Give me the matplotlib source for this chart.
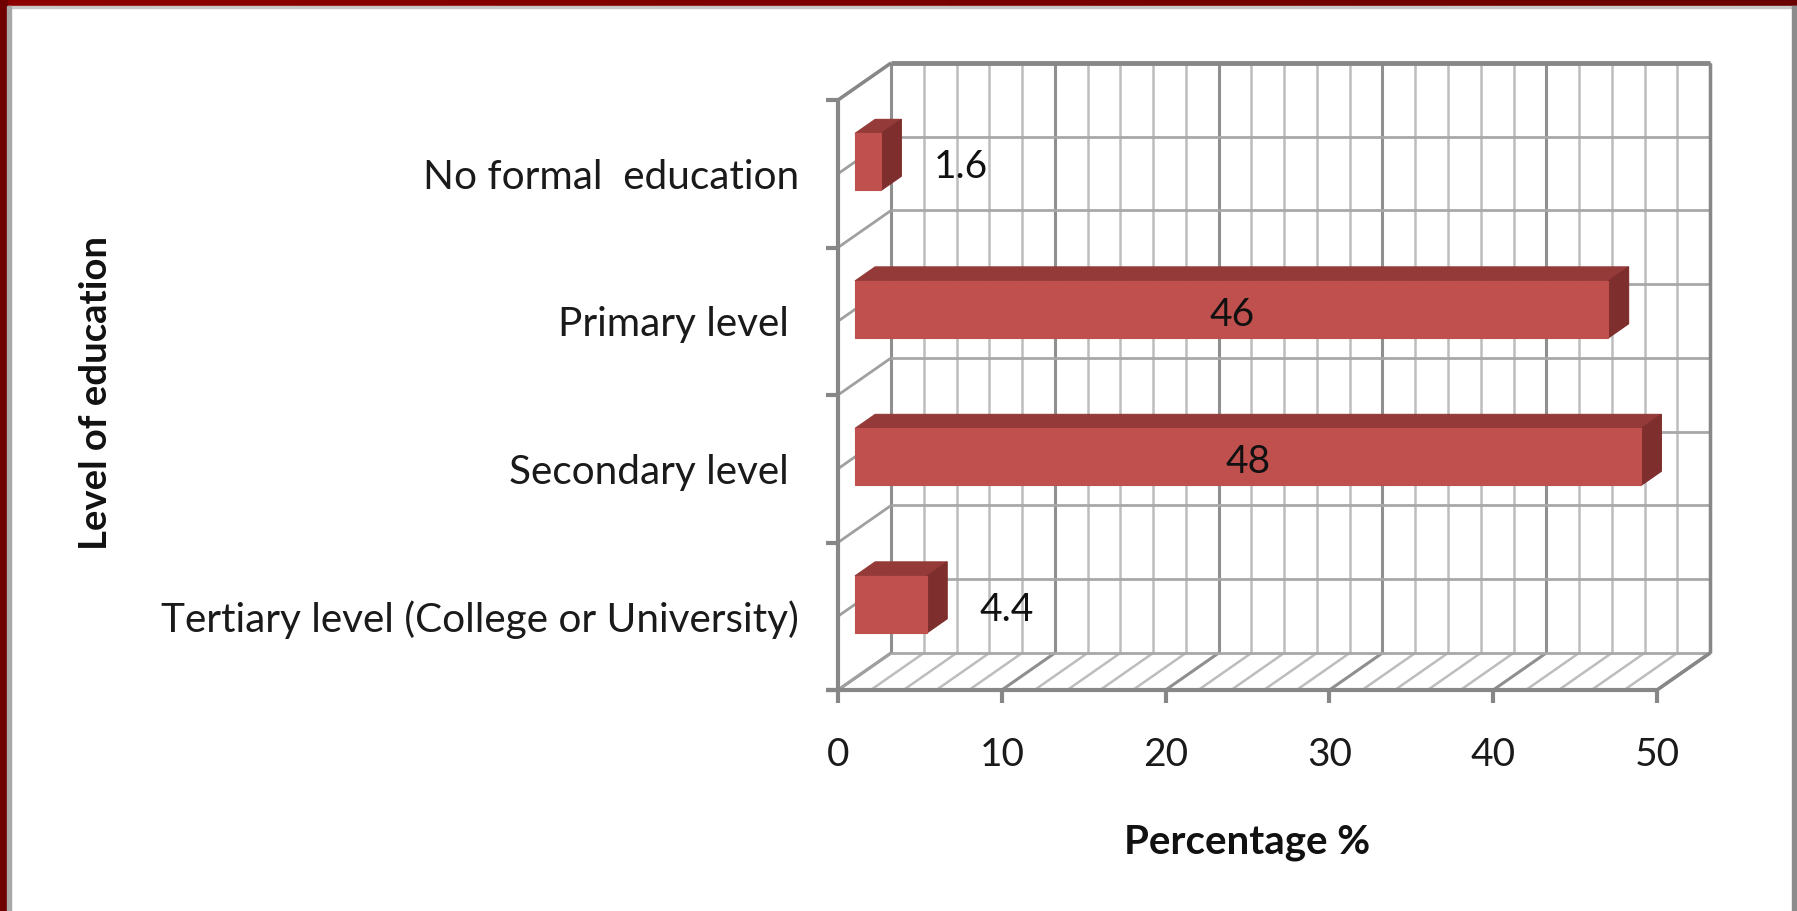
import numpy as np
import matplotlib
matplotlib.use('Agg')
import matplotlib.pyplot as plt
from matplotlib.patches import Polygon, Rectangle
from matplotlib.colors import LinearSegmentedColormap

# data, bottom to top
categories = ['Tertiary level (College or University)', 'Secondary level ',
              'Primary level ', 'No formal  education']
values = [4.4, 48, 46, 1.6]
value_labels = ['4.4', '48', '46', '1.6']
x_ticks = [0, 10, 20, 30, 40, 50]
x_title = 'Percentage %'
y_title = 'Level of education'

plt.rcParams['font.family'] = ['Lato', 'DejaVu Sans']

W, H = 1797, 911
fig = plt.figure(figsize=(W / 100, H / 100), dpi=100)

# slide frame around the chart
bg = fig.add_axes([0, 0, 1, 1])
bg.set_xlim(0, W)
bg.set_ylim(H, 0)
bg.axis('off')
grad = np.linspace(0, 1, 256).reshape(1, -1)
cmap = LinearSegmentedColormap.from_list('frame', ['#8e0000', '#6a0000'])
bg.imshow(grad, extent=[0, W, 6, 0], cmap=cmap, aspect='auto', zorder=1)
bg.add_patch(Rectangle((0, 0), 7, H, color='#6e0000', zorder=2))
bg.add_patch(Rectangle((7, 6), W, 2, color='#c8c8c8', zorder=1))
bg.add_patch(Rectangle((7, 6), 4, H, color='#a8a8a8', zorder=2))
bg.add_patch(Rectangle((W - 5, 6), 5, H, color='#8c8c8c', zorder=2))

# front plane of the 3-D box
ax = fig.add_axes([838 / W, (H - 690) / H, 819 / W, 590 / H])
ax.set_xlim(0, 50)
ax.set_ylim(0, len(categories))
ax.axis('off')

# depth of the box, in data units
DX = 3.24
DY = 0.251


def P(v, c, d):
    return (v + d * DX, c + d * DY)


def seg(p, q, color, lw, z=1):
    ax.plot([p[0], q[0]], [p[1], q[1]], color=color, lw=lw, clip_on=False,
            zorder=z, solid_capstyle='butt')


minor = '#bdbdbd'
major = '#8f8f8f'
edge = '#878787'
ncat = len(categories)
xmax = x_ticks[-1]

# back wall verticals and floor diagonals
for v in np.arange(0, xmax + 0.1, 2):
    col, lw = (major, 2.2) if v % 10 == 0 else (minor, 1.8)
    seg(P(v, 0, 1), P(v, ncat, 1), col, lw)
    seg(P(v, 0, 0), P(v, 0, 1), col, lw)

# back wall horizontals and side wall diagonals
for c in np.arange(0, ncat + 0.01, 0.5):
    seg(P(0, c, 1), P(xmax, c, 1), '#a8a8a8', 2.0)
    seg(P(0, c, 0), P(0, c, 1), '#a0a0a0', 2.0)

# box edges
seg(P(0, ncat, 1), P(xmax, ncat, 1), edge, 3.5, 2)
seg(P(xmax, 0, 1), P(xmax, ncat, 1), edge, 2.5, 2)
seg(P(xmax, 0, 0), P(xmax, 0, 1), edge, 2.5, 2)
seg(P(0, ncat, 0), P(0, ncat, 1), edge, 2.5, 2)
seg(P(0, 0, 0), P(0, ncat, 0), edge, 3, 2)
seg(P(-0.75, 0, 0), P(xmax, 0, 0), edge, 3, 2)

# ticks
for c in range(ncat + 1):
    seg(P(-0.75, c, 0), P(0, c, 0), edge, 3, 2)
for v in x_ticks:
    seg(P(v, 0, 0), P(v, -0.085, 0), edge, 3, 2)
    ax.text(v, -0.44, str(v), ha='center', va='center', fontsize=28,
            color='#1a1a1a', clip_on=False)

# bars
front_c, top_c, side_c = '#c0504d', '#943a38', '#7e2f2d'
d1, d2 = 0.32, 0.70
hh = 0.193
for i, (v, lab) in enumerate(zip(values, value_labels)):
    c = i + 0.5
    front = [P(0, c - hh, d1), P(v, c - hh, d1), P(v, c + hh, d1), P(0, c + hh, d1)]
    top = [P(0, c + hh, d1), P(v, c + hh, d1), P(v, c + hh, d2), P(0, c + hh, d2)]
    side = [P(v, c - hh, d1), P(v, c + hh, d1), P(v, c + hh, d2), P(v, c - hh, d2)]
    for pts, col in ((top, top_c), (side, side_c), (front, front_c)):
        ax.add_patch(Polygon(pts, closed=True, facecolor=col, edgecolor=col,
                             lw=0.8, zorder=5, clip_on=False))
    ly = c + 0.25 * DY - 0.02
    if v > 20:
        ax.text(v / 2 + d1 * DX, ly, lab, ha='center', va='center',
                fontsize=28, color='#111111', zorder=6, clip_on=False)
    else:
        ax.text(v + 5.9, ly, lab, ha='center', va='center',
                fontsize=28, color='#111111', zorder=6, clip_on=False)
    ax.text(-2.38, c - 0.025, categories[i], ha='right', va='center',
            fontsize=29.2, color='#1a1a1a', clip_on=False)

# axis titles
ax.text(0.5, -0.258, x_title, transform=ax.transAxes, ha='center', va='center',
        fontsize=29, fontweight='bold', color='#111111')
ax.text(-0.906, 0.503, y_title, transform=ax.transAxes, ha='center', va='center',
        fontsize=27.5, fontweight='bold', rotation=90, color='#111111')

fig.savefig('out.png', dpi=100)
